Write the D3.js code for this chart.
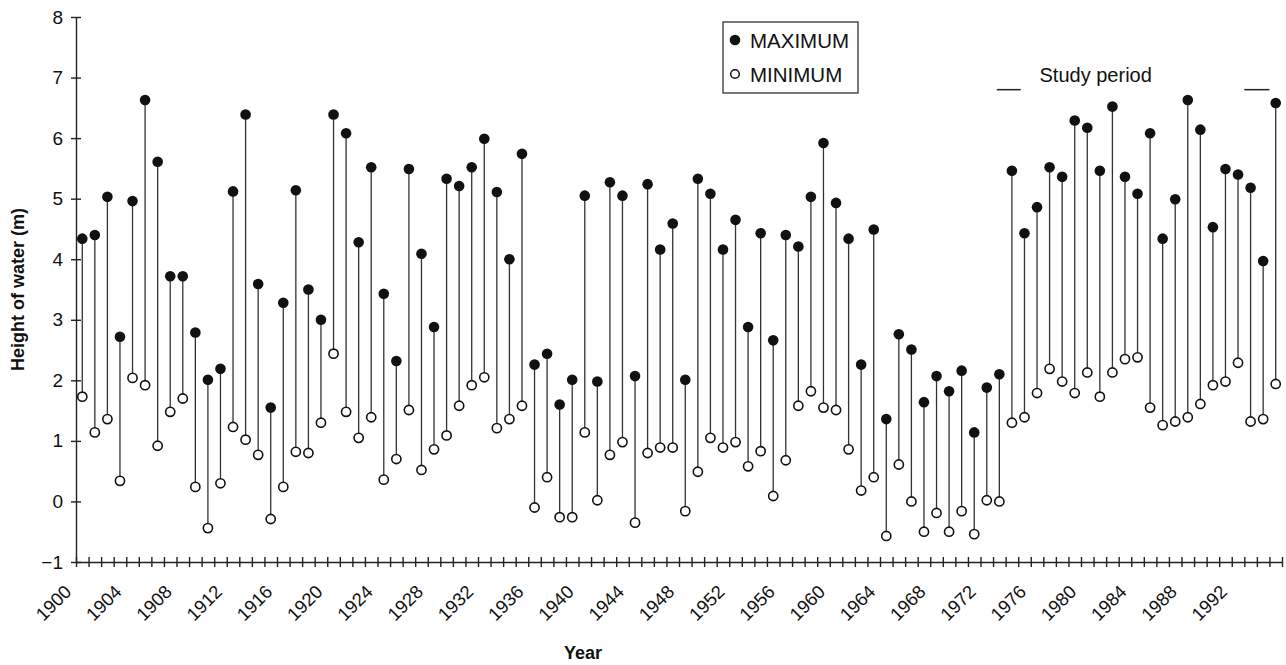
<!DOCTYPE html>
<html>
<head>
<meta charset="utf-8">
<script src="https://cdn.jsdelivr.net/npm/d3@7/dist/d3.min.js"></script>
<style>
    body { margin: 0; background: #fff; }
    text { font-family: "Liberation Sans", Arial, sans-serif; fill: #111; }
</style>
</head>
<body>
<div id="chart-area"></div>
<script>
// water level data, one max and one min per year
let years = [1900, 1901, 1902, 1903, 1904, 1905, 1906, 1907, 1908, 1909,
    1910, 1911, 1912, 1913, 1914, 1915, 1916, 1917, 1918, 1919,
    1920, 1921, 1922, 1923, 1924, 1925, 1926, 1927, 1928, 1929,
    1930, 1931, 1932, 1933, 1934, 1935, 1936, 1937, 1938, 1939,
    1940, 1941, 1942, 1943, 1944, 1945, 1946, 1947, 1948, 1949,
    1950, 1951, 1952, 1953, 1954, 1955, 1956, 1957, 1958, 1959,
    1960, 1961, 1962, 1963, 1964, 1965, 1966, 1967, 1968, 1969,
    1970, 1971, 1972, 1973, 1974, 1975, 1976, 1977, 1978, 1979,
    1980, 1981, 1982, 1983, 1984, 1985, 1986, 1987, 1988, 1989,
    1990, 1991, 1992, 1993, 1994, 1995];

let maxValues = [4.34, 4.40, 5.03, 2.72, 4.96, 6.63, 5.61, 3.72, 3.72, 2.79,
    2.01, 2.19, 5.12, 6.39, 3.59, 1.55, 3.28, 5.14, 3.50, 3.00,
    6.39, 6.08, 4.28, 5.52, 3.43, 2.32, 5.49, 4.09, 2.88, 5.33,
    5.21, 5.52, 5.99, 5.11, 4.00, 5.74, 2.26, 2.44, 1.60, 2.01,
    5.05, 1.98, 5.27, 5.05, 2.07, 5.24, 4.16, 4.59, 2.01, 5.33,
    5.08, 4.16, 4.65, 2.88, 4.43, 2.66, 4.40, 4.21, 5.03, 5.92,
    4.93, 4.34, 2.26, 4.49, 1.36, 2.76, 2.51, 1.64, 2.07, 1.82,
    2.16, 1.14, 1.88, 2.10, 5.46, 4.43, 4.86, 5.52, 5.36, 6.29,
    6.17, 5.46, 6.52, 5.36, 5.08, 6.08, 4.34, 4.99, 6.63, 6.14,
    4.53, 5.49, 5.40, 5.18, 3.97, 6.58];

let minValues = [1.73, 1.14, 1.36, 0.34, 2.04, 1.92, 0.92, 1.48, 1.70, 0.24,
    -0.44, 0.30, 1.23, 1.02, 0.77, -0.29, 0.24, 0.82, 0.80, 1.30,
    2.44, 1.48, 1.05, 1.39, 0.36, 0.70, 1.51, 0.52, 0.86, 1.09,
    1.58, 1.92, 2.05, 1.21, 1.36, 1.58, -0.10, 0.40, -0.26, -0.26,
    1.14, 0.02, 0.77, 0.98, -0.35, 0.80, 0.89, 0.89, -0.16, 0.49,
    1.05, 0.89, 0.98, 0.58, 0.83, 0.09, 0.68, 1.58, 1.82, 1.55,
    1.51, 0.86, 0.18, 0.40, -0.57, 0.61, 0.00, -0.50, -0.19, -0.50,
    -0.16, -0.54, 0.02, 0.00, 1.30, 1.39, 1.79, 2.19, 1.98, 1.79,
    2.13, 1.73, 2.13, 2.35, 2.38, 1.55, 1.26, 1.32, 1.39, 1.61,
    1.92, 1.98, 2.29, 1.32, 1.36, 1.94];

let xTickLabels = [1900, 1904, 1908, 1912, 1916, 1920, 1924, 1928, 1932, 1936,
    1940, 1944, 1948, 1952, 1956, 1960, 1964, 1968, 1972, 1976,
    1980, 1984, 1988, 1992];
let yTicks = [-1, 0, 1, 2, 3, 4, 5, 6, 7, 8];

// study period markers (start year, end year)
let studyMarks = [[1973.3, 1975.2], [1993.0, 1995.0]];

let width = 1286,
    height = 665;
let margin = {top: 17, right: 4, left: 76, bottom: 103};
let plotW = width - margin.left - margin.right,
    plotH = height - margin.top - margin.bottom;

let data = years.map(function (d, i) {
    return {year: d, max: maxValues[i], min: minValues[i]};
});

let svg = d3.select("#chart-area")
    .append("svg")
    .attr("width", width)
    .attr("height", height)
    .append("g")
    .attr("transform", "translate(" + margin.left + "," + margin.top + ")");

let x = d3.scaleLinear()
    .domain([1900, 1996])
    .range([0, plotW]);

let y = d3.scaleLinear()
    .domain([-1, 8])
    .range([plotH, 0]);

// x axis: a tick every year, label every 4 years
let xAxis = d3.axisBottom(x)
    .tickValues(years.concat([1996]))
    .tickSizeInner(5)
    .tickSizeOuter(0)
    .tickFormat(function (d) {
        return xTickLabels.indexOf(d) >= 0 ? d : "";
    });

let gx = svg.append("g")
    .attr("class", "x-axis")
    .attr("transform", "translate(0," + plotH + ")")
    .call(xAxis);

gx.selectAll(".tick line").attr("y1", -5).attr("y2", 5);
gx.selectAll(".tick text")
    .attr("x", -4)
    .attr("y", 31)
    .attr("dy", 0)
    .attr("text-anchor", "end")
    .attr("transform", "rotate(-45,-4,31)")
    .style("font-size", "18.5px");

let yAxis = d3.axisLeft(y)
    .tickValues(yTicks)
    .tickSizeInner(5)
    .tickSizeOuter(0);

let gy = svg.append("g")
    .attr("class", "y-axis")
    .call(yAxis);

gy.selectAll(".tick line").attr("x1", -5).attr("x2", 5);
gy.selectAll(".tick text")
    .attr("x", -13)
    .style("font-size", "19px");

svg.selectAll(".domain, .tick line")
    .attr("stroke", "#222")
    .attr("stroke-width", 1.4);
svg.selectAll(".tick text").attr("fill", "#111");

// stems
svg.selectAll("line.stem")
    .data(data)
    .enter()
    .append("line")
    .attr("class", "stem")
    .attr("x1", function (d) { return x(d.year + 0.5); })
    .attr("x2", function (d) { return x(d.year + 0.5); })
    .attr("y1", function (d) { return y(d.max); })
    .attr("y2", function (d) { return y(d.min); })
    .attr("stroke", "#333")
    .attr("stroke-width", 1.3);

// minimum (open)
svg.selectAll("circle.min")
    .data(data)
    .enter()
    .append("circle")
    .attr("class", "min")
    .attr("cx", function (d) { return x(d.year + 0.5); })
    .attr("cy", function (d) { return y(d.min); })
    .attr("r", 4.6)
    .attr("fill", "#fff")
    .attr("stroke", "#111")
    .attr("stroke-width", 1.6);

// maximum (filled)
svg.selectAll("circle.max")
    .data(data)
    .enter()
    .append("circle")
    .attr("class", "max")
    .attr("cx", function (d) { return x(d.year + 0.5); })
    .attr("cy", function (d) { return y(d.max); })
    .attr("r", 5.3)
    .attr("fill", "#111");

// study period annotation
svg.selectAll("line.study")
    .data(studyMarks)
    .enter()
    .append("line")
    .attr("class", "study")
    .attr("x1", function (d) { return x(d[0]); })
    .attr("x2", function (d) { return x(d[1]); })
    .attr("y1", y(6.8))
    .attr("y2", y(6.8))
    .attr("stroke", "#222")
    .attr("stroke-width", 1.5);

svg.append("text")
    .attr("x", x(1976.7))
    .attr("y", y(6.93))
    .style("font-size", "20px")
    .text("Study period");

// legend
let legend = svg.append("g")
    .attr("transform", "translate(" + (723 - margin.left) + "," + (22 - margin.top) + ")");

legend.append("rect")
    .attr("width", 135)
    .attr("height", 71)
    .attr("fill", "#fff")
    .attr("stroke", "#333")
    .attr("stroke-width", 1.3);

legend.append("circle")
    .attr("cx", 12).attr("cy", 18).attr("r", 5.3)
    .attr("fill", "#111");
legend.append("text")
    .attr("x", 27).attr("y", 25.5)
    .style("font-size", "20.5px")
    .text("MAXIMUM");

legend.append("circle")
    .attr("cx", 12).attr("cy", 52).attr("r", 4.3)
    .attr("fill", "#fff").attr("stroke", "#111").attr("stroke-width", 1.5);
legend.append("text")
    .attr("x", 27).attr("y", 60)
    .style("font-size", "20.5px")
    .text("MINIMUM");

// axis titles
svg.append("text")
    .attr("x", 583 - margin.left)
    .attr("y", 659 - margin.top)
    .attr("text-anchor", "middle")
    .style("font-size", "18px")
    .style("font-weight", "bold")
    .text("Year");

svg.append("text")
    .attr("transform", "translate(" + (24 - margin.left) + "," + plotH / 2 + ") rotate(-90)")
    .attr("text-anchor", "middle")
    .style("font-size", "18px")
    .style("font-weight", "bold")
    .text("Height of water (m)");
</script>
</body>
</html>
